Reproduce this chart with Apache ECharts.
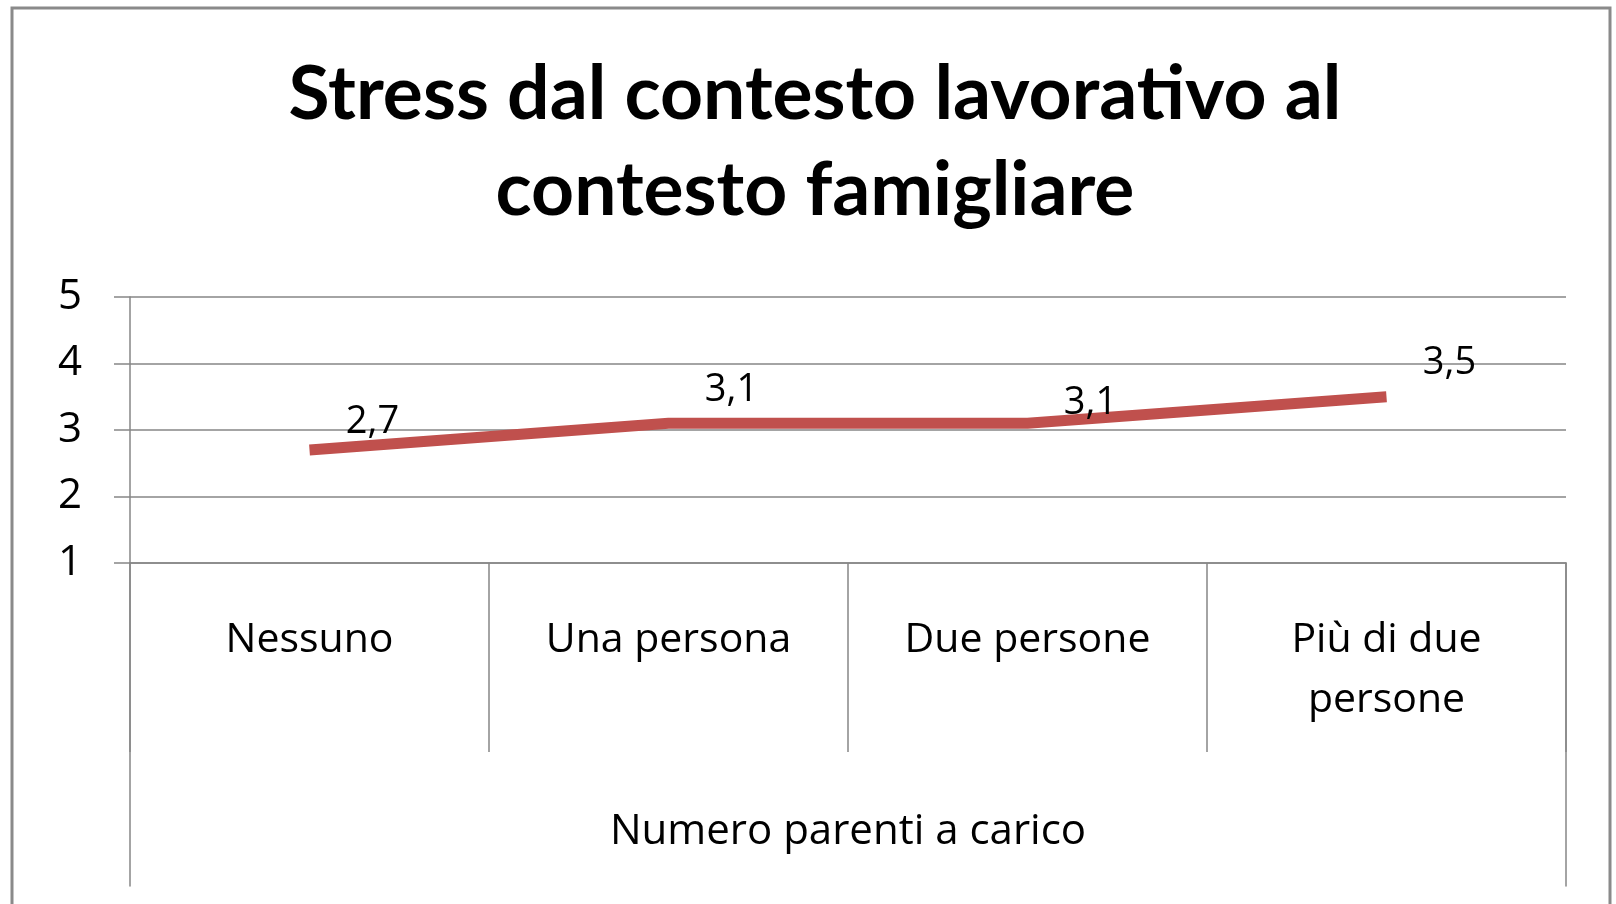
<!DOCTYPE html>
<html>
<head>
<meta charset="utf-8">
<title>Stress dal contesto lavorativo al contesto famigliare</title>
<script src="https://cdn.jsdelivr.net/npm/echarts@6/dist/echarts.min.js"></script>
<style>
  html, body { margin: 0; padding: 0; background: #fff; }
  #main { width: 1616px; height: 904px; }
</style>
</head>
<body>
<div id="main"></div>
<script>
// dati
const categories = ['Nessuno', 'Una persona', 'Due persone', 'Più di due\npersone'];
const stressValues = [2.7, 3.1, 3.1, 3.5];
const yTicks = { min: 1, max: 5, step: 1 };
const titleText = 'Stress dal contesto lavorativo al\ncontesto famigliare';
const xAxisTitle = 'Numero parenti a carico';

// spostamento verticale delle etichette (come nel grafico Excel)
const labelShiftY = [-28, -33, -20, -34];

const FONT = 'Open Sans';
const GRAY = '#868686';

let myChart = echarts.init(document.getElementById('main'));

let option = {
  backgroundColor: '#fff',
  animation: false,
  title: {
    text: titleText,
    left: 810,
    top: 42,
    textAlign: 'center',
    textStyle: {
      fontFamily: 'Lato',
      fontWeight: 'bold',
      fontSize: 75,
      lineHeight: 96,
      color: '#000'
    }
  },
  graphic: [
    {
      // cornice esterna
      type: 'rect',
      shape: { x: 12, y: 8, width: 1598, height: 1000 },
      style: { fill: 'none', stroke: '#8a8a8a', lineWidth: 3 },
      silent: true
    }
  ],
  grid: [
    { left: 130, right: 50, top: 297, bottom: 341 },
    { left: 130, right: 50, top: 563, bottom: 18 }
  ],
  xAxis: [
    {
      type: 'category',
      gridIndex: 0,
      data: categories,
      boundaryGap: true,
      axisLine: { show: true, lineStyle: { color: GRAY, width: 1.5 } },
      axisTick: { show: true, interval: 0, length: 189, lineStyle: { color: GRAY, width: 1.5 } },
      axisLabel: {
        interval: 0,
        margin: 47,
        fontFamily: FONT,
        fontSize: 41,
        lineHeight: 60,
        color: '#000'
      },
      name: xAxisTitle,
      nameLocation: 'middle',
      nameGap: 249,
      nameTextStyle: { fontFamily: FONT, fontSize: 42, lineHeight: 40, color: '#000' }
    },
    { type: 'category', gridIndex: 1, show: false, data: [''] }
  ],
  yAxis: [
    {
      type: 'value',
      gridIndex: 0,
      min: yTicks.min,
      max: yTicks.max,
      interval: yTicks.step,
      axisLine: { show: true, lineStyle: { color: GRAY, width: 1.5 } },
      axisTick: { show: true, length: 16, lineStyle: { color: GRAY, width: 1.5 } },
      splitLine: { show: true, lineStyle: { color: GRAY, width: 1.5 } },
      axisLabel: {
        margin: 48,
        fontFamily: FONT,
        fontSize: 42,
        color: '#000'
      }
    },
    {
      type: 'value', gridIndex: 1, position: 'left', min: 0, max: 1,
      axisLine: { show: true, lineStyle: { color: GRAY, width: 1.5 } },
      axisTick: { show: false }, axisLabel: { show: false }, splitLine: { show: false }
    },
    {
      type: 'value', gridIndex: 1, position: 'right', min: 0, max: 1,
      axisLine: { show: true, lineStyle: { color: GRAY, width: 1.5 } },
      axisTick: { show: false }, axisLabel: { show: false }, splitLine: { show: false }
    }
  ],
  series: [
    {
      type: 'line',
      xAxisIndex: 0,
      yAxisIndex: 0,
      data: stressValues.map((v, i) => ({
        value: v,
        label: { offset: [63, labelShiftY[i]] }
      })),
      symbol: 'circle',
      symbolSize: 0,
      showSymbol: true,
      lineStyle: { color: '#C0504D', width: 11, cap: 'butt' },
      label: {
        show: true,
        position: 'inside',
        fontFamily: FONT,
        fontSize: 38,
        color: '#000',
        formatter: p => String(p.value).replace('.', ',')
      }
    }
  ]
};

myChart.setOption(option);
</script>
</body>
</html>
